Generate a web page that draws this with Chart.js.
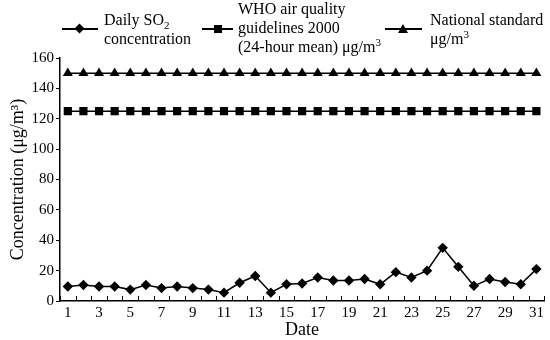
<!DOCTYPE html>
<html>
<head>
<meta charset="utf-8">
<script src="https://cdn.jsdelivr.net/npm/chart.js@4"></script>
<style>
  html, body { margin: 0; padding: 0; background: #fff; }
  #wrap { position: relative; width: 550px; height: 340px; font-family: "Liberation Serif", serif; color: #000; }
  #chart { position: absolute; left: 0; top: 0; }
  .item { position: absolute; font-size: 16px; line-height: 19px; white-space: nowrap; }
  .seg { position: absolute; height: 2px; background: #000; }
  .mk { position: absolute; background: #000; }
  .tri { position: absolute; width: 0; height: 0; border-left: 5px solid transparent; border-right: 5px solid transparent; border-bottom: 9px solid #000; }
  sub, sup { font-size: 11px; line-height: 0; }
</style>
</head>
<body>
<div id="wrap">
  <canvas id="chart" width="550" height="340"></canvas>

  <div class="seg" style="left:62px; top:28px; width:36px;"></div>
  <div class="mk" style="left:76px; top:25px; width:7px; height:7px; transform:rotate(45deg);"></div>
  <div class="item" style="left:104px; top:10px;">Daily SO<sub>2</sub><br>concentration</div>

  <div class="seg" style="left:202px; top:28px; width:31px;"></div>
  <div class="mk" style="left:214px; top:25px; width:8px; height:8px;"></div>
  <div class="item" style="left:238px; top:-1px;">WHO air quality<br>guidelines 2000<br>(24-hour mean) μg/m<sup>3</sup></div>

  <div class="seg" style="left:385px; top:28px; width:37px;"></div>
  <div class="tri" style="left:398px; top:24px;"></div>
  <div class="item" style="left:430px; top:10px;">National standard<br>μg/m<sup>3</sup></div>
</div>
<script>
const days = ['1', '2', '3', '4', '5', '6', '7', '8', '9', '10', '11', '12', '13', '14', '15', '16',
  '17', '18', '19', '20', '21', '22', '23', '24', '25', '26', '27', '28', '29', '30', '31'];

const dailySO2 = [9.5, 10.5, 9.5, 9.5, 7.5, 10.5, 8.5, 9.5, 8.5, 7.5, 5.5, 12, 16.5, 5.5, 11, 11.5,
  15.5, 13.5, 13.5, 14.5, 11, 19, 15.5, 20, 35, 22.5, 10, 14.5, 12.5, 11, 21];

const whoGuideline = [125, 125, 125, 125, 125, 125, 125, 125, 125, 125, 125, 125, 125, 125, 125, 125,
  125, 125, 125, 125, 125, 125, 125, 125, 125, 125, 125, 125, 125, 125, 125];

const nationalStandard = [150, 150, 150, 150, 150, 150, 150, 150, 150, 150, 150, 150, 150, 150, 150, 150,
  150, 150, 150, 150, 150, 150, 150, 150, 150, 150, 150, 150, 150, 150, 150];

const yTicks = [0, 20, 40, 60, 80, 100, 120, 140, 160];

const FONT = 'Liberation Serif';

// small tick marks pointing up into the plot, between the days
const innerTicks = {
  id: 'innerTicks',
  afterDraw(chart) {
    const xs = chart.scales.x;
    const ctx = chart.ctx;
    ctx.save();
    ctx.strokeStyle = '#000';
    ctx.lineWidth = 1;
    for (let i = 0; i <= days.length; i++) {
      const px = Math.round(xs.getPixelForValue(i - 0.5)) + 0.5;
      ctx.beginPath();
      ctx.moveTo(px, xs.top);
      ctx.lineTo(px, xs.top - 5);
      ctx.stroke();
    }
    ctx.restore();
  },
};

function lineSet(label, data, style, radius) {
  return {
    label,
    data,
    borderColor: '#000',
    backgroundColor: '#000',
    borderWidth: 1.5,
    pointStyle: style,
    pointRadius: radius,
    pointBorderWidth: 0,
    pointBackgroundColor: '#000',
    tension: 0,
  };
}

new Chart(document.querySelector('#chart'), {
  type: 'line',
  data: {
    labels: days,
    datasets: [
      lineSet('Daily SO2 concentration', dailySO2, 'rectRot', 5.2),
      lineSet('WHO air quality guidelines 2000 (24-hour mean) μg/m3', whoGuideline, 'rect', 5.8),
      lineSet('National standard μg/m3', nationalStandard, 'triangle', 5.8),
    ],
  },
  options: {
    responsive: false,
    animation: false,
    layout: { padding: { top: 58, right: 4, left: 0, bottom: 0 } },
    plugins: { legend: { display: false }, tooltip: { enabled: false } },
    scales: {
      x: {
        offset: true,
        grid: { display: true, drawOnChartArea: false, drawTicks: false, offset: true },
        border: { display: true, color: '#000', width: 1.5 },
        ticks: {
          autoSkip: false,
          maxRotation: 0,
          padding: 3,
          color: '#000',
          font: { family: FONT, size: 15 },
          callback(value, index) {
            return index % 2 === 0 ? days[index] : '';
          },
        },
        title: {
          display: true,
          text: 'Date',
          color: '#000',
          font: { family: FONT, size: 18 },
          padding: { top: 0, bottom: -1 },
        },
        afterFit(scale) { scale.height = 39; },
      },
      y: {
        min: 0,
        max: 160,
        afterBuildTicks(scale) { scale.ticks = yTicks.map((v) => ({ value: v })); },
        grid: { display: true, drawOnChartArea: false, drawTicks: true, tickLength: 4, color: '#000' },
        border: { display: true, color: '#000', width: 1.5 },
        ticks: {
          padding: 2,
          color: '#000',
          font: { family: FONT, size: 15 },
        },
        title: {
          display: true,
          text: 'Concentration (μg/m³)',
          color: '#000',
          font: { family: FONT, size: 18 },
          padding: { top: 7, bottom: 0 },
        },
        afterFit(scale) { scale.width = 60; },
      },
    },
  },
  plugins: [innerTicks],
});
</script>
</body>
</html>
